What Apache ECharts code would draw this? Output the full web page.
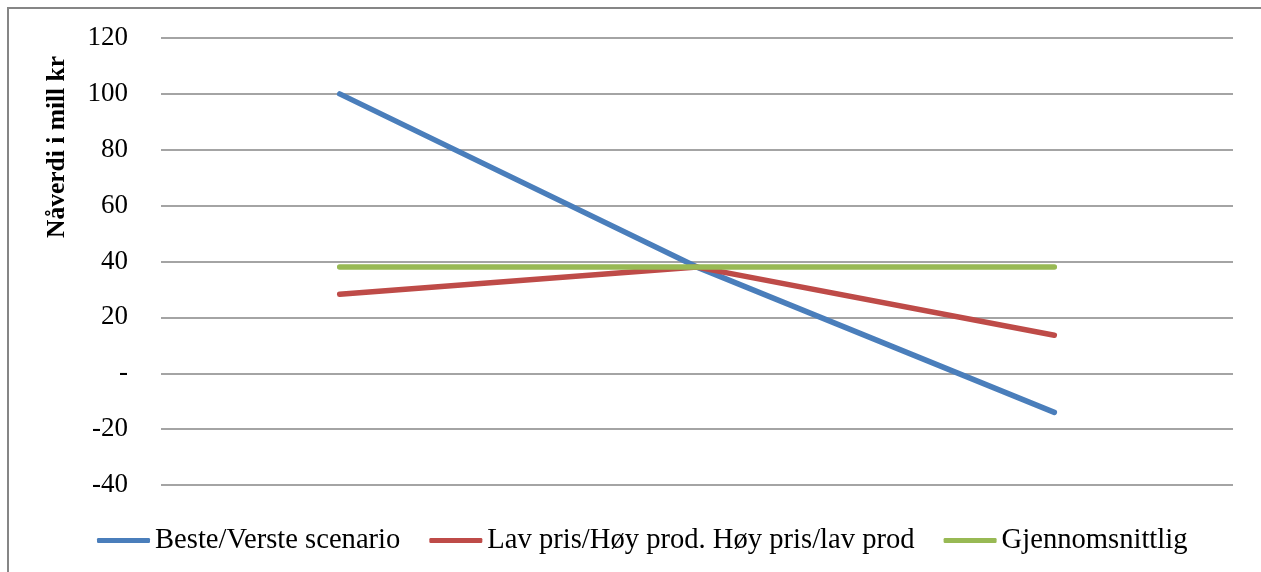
<!DOCTYPE html>
<html>
<head>
<meta charset="utf-8">
<script src="https://cdn.jsdelivr.net/npm/echarts@6/dist/echarts.min.js"></script>
<style>
  html, body { margin: 0; padding: 0; background: #fff; }
  #chart { width: 1261px; height: 572px; }
</style>
</head>
<body>
<div id="chart"></div>
<script>
// Net present value by scenario (mill kr)
const categories = ['Beste', 'Forventet', 'Verste'];
const besteVerste = [100, 38, -14];
const lavHoy = [28.3, 38, 13.6];
const gjennomsnitt = [38, 38, 38];
const seriesNames = ['Beste/Verste scenario', 'Lav pris/Høy prod. Høy pris/lav prod', 'Gjennomsnittlig'];
const yTitle = 'Nåverdi i mill kr';
const colors = ['#4a7ebb', '#be4b48', '#98b954'];

const font = '"Liberation Serif", "DejaVu Serif", serif';

const chart = echarts.init(document.getElementById('chart'));
chart.setOption({
  animation: false,
  color: colors,
  textStyle: { fontFamily: font },
  graphic: [{
    type: 'rect',
    shape: { x: 8, y: 8, width: 1300, height: 700 },
    style: { fill: 'none', stroke: '#868686', lineWidth: 2 },
    silent: true
  }, {
    type: 'text',
    x: 57, y: 147,
    rotation: Math.PI / 2,
    style: {
      text: yTitle,
      font: 'bold 25.5px ' + font,
      fill: '#000',
      align: 'center',
      verticalAlign: 'middle'
    },
    silent: true
  }],
  grid: { left: 161, right: 28, top: 38, bottom: 87, containLabel: false },
  xAxis: {
    type: 'category',
    data: categories,
    boundaryGap: true,
    axisLine: { show: false },
    axisTick: { show: false },
    axisLabel: { show: false }
  },
  yAxis: {
    type: 'value',
    min: -40, max: 120, interval: 20,
    axisLine: { show: false },
    axisTick: { show: false },
    axisLabel: {
      margin: 33,
      fontFamily: font, fontSize: 27, color: '#000',
      formatter: v => v === 0 ? '-' : String(v)
    },
    splitLine: { lineStyle: { color: '#868686', width: 1.5 } }
  },
  legend: {
    top: 521,
    left: 92,
    icon: 'roundRect',
    itemWidth: 53,
    itemHeight: 5,
    itemGap: 29,
    textStyle: { fontFamily: font, fontSize: 28.6, color: '#000' },
    data: seriesNames
  },
  series: [
    { name: seriesNames[0], type: 'line', data: besteVerste, symbol: 'none', lineStyle: { width: 5.5, cap: 'round' } },
    { name: seriesNames[1], type: 'line', data: lavHoy, symbol: 'none', lineStyle: { width: 5.5, cap: 'round' } },
    { name: seriesNames[2], type: 'line', data: gjennomsnitt, symbol: 'none', lineStyle: { width: 5.5, cap: 'round' }, z: 3 }
  ]
});
</script>
</body>
</html>
